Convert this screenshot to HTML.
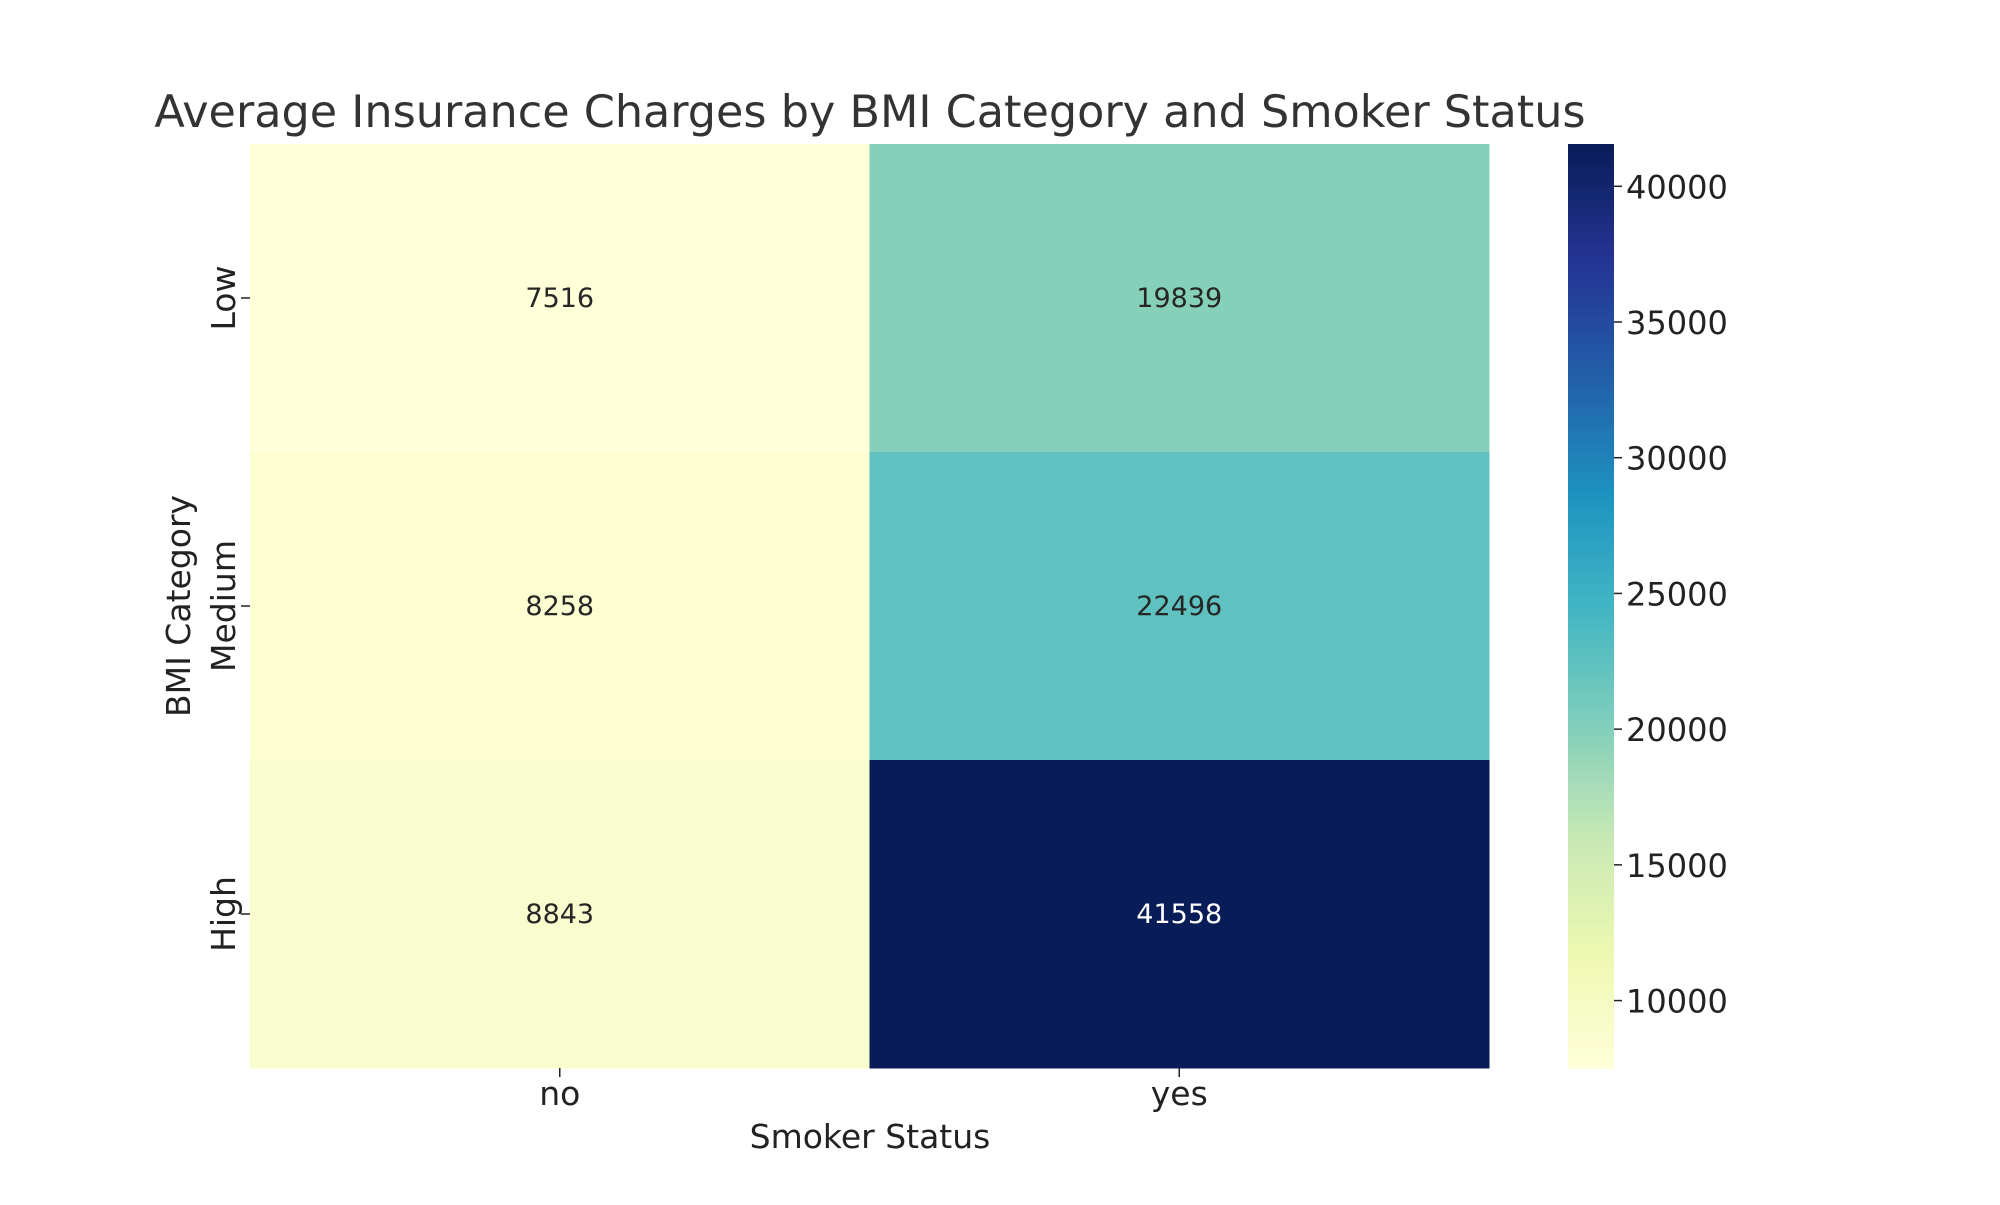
<!DOCTYPE html>
<html><head><meta charset="utf-8"><style>
html,body{margin:0;padding:0;background:#fff;}
svg text{font-family:"DejaVu Sans","Liberation Sans",sans-serif;}
</style></head><body>
<svg id="chart" width="2000" height="1200" xmlns="http://www.w3.org/2000/svg">
<text x="870" y="127" font-size="44.5" fill="#333" text-anchor="middle">Average Insurance Charges by BMI Category and Smoker Status</text>
<text x="870" y="1148" font-size="33" fill="#222" text-anchor="middle">Smoker Status</text>
<text transform="translate(190,606) rotate(-90)" font-size="33" fill="#222" text-anchor="middle">BMI Category</text>
<g id="cells"></g>
<g id="cbar"></g>
</svg>
<script>
const rows = ["Low","Medium","High"];
const cols = ["no","yes"];
const noValues = [7516, 8258, 8843];
const yesValues = [19839, 22496, 41558];
const cbarTicks = [10000,15000,20000,25000,30000,35000,40000];
const vmin = 7516, vmax = 41558;

const NS="http://www.w3.org/2000/svg";
const L=250,R=1489,T=144,B=1068;
const CBX=1568,CBW=46;
const stops=['#ffffd9','#edf8b1','#c7e9b4','#7fcdbb','#41b6c4','#1d91c0','#225ea8','#253494','#081d58'];
function hex(h){return [1,3,5].map(i=>parseInt(h.substr(i,2),16));}
function cmap(v){let t=(v-vmin)/(vmax-vmin);t=Math.max(0,Math.min(1,t));
 const p=t*(stops.length-1);const i=Math.min(stops.length-2,Math.floor(p));const f=p-i;
 const a=hex(stops[i]),b=hex(stops[i+1]);
 return 'rgb('+a.map((c,k)=>Math.round(c+(b[k]-c)*f)).join(',')+')';}
function lum(v){let t=(v-vmin)/(vmax-vmin);return t<0.6;}
const xs=i=>L+(R-L)*i/cols.length, ys=j=>T+(B-T)*j/rows.length;
const cw=(R-L)/cols.length, ch=(B-T)/rows.length;
function mk(tag,attrs,parent){const e=document.createElementNS(NS,tag);for(const k in attrs)e.setAttribute(k,attrs[k]);parent.appendChild(e);return e;}
const g=document.getElementById('cells');
const series=[noValues,yesValues];
series.forEach((vals,ci)=>{vals.forEach((v,ri)=>{
 const r=mk('rect',{x:xs(ci),y:ys(ri),width:cw+0.5,height:ch+0.5,fill:cmap(v)},g);
 
 
 const t=mk('text',{x:xs(ci)+cw/2,y:ys(ri)+ch/2+9,'font-size':27,'text-anchor':'middle',fill:lum(v)?'#262626':'#fff'},g);
 t.textContent=v;
 
 
});});
rows.forEach((r,ri)=>{const y=ys(ri)+ch/2;
 const tk=mk('line',{x1:L-9,x2:L,y1:y,y2:y,stroke:'#222','stroke-width':1.5},g);
 
 
 const t=mk('text',{transform:`translate(235,${y}) rotate(-90)`,'font-size':33,'text-anchor':'middle',fill:'#222'},g);
 t.textContent=r;
 
 
});
cols.forEach((c,ci)=>{const x=xs(ci)+cw/2;
 const tk=mk('line',{x1:x,x2:x,y1:B,y2:B+9,stroke:'#222','stroke-width':1.5},g);
 
 
 const t=mk('text',{x:x,y:1105,'font-size':33,'text-anchor':'middle',fill:'#222'},g);
 t.textContent=c;
 
 
});
const cb=document.getElementById('cbar');
const N=200;
for(let i=0;i<N;i++){const v=vmin+(vmax-vmin)*i/N;
 const y0=B-(B-T)*(i+1)/N;
 const r=mk('rect',{x:CBX,y:y0,width:CBW,height:(B-T)/N+0.8,fill:cmap(v+(vmax-vmin)/(2*N))},cb);
 
 
}
cbarTicks.forEach(v=>{const y=B-(B-T)*(v-vmin)/(vmax-vmin);
 const tk=mk('line',{x1:CBX+CBW,x2:CBX+CBW+8,y1:y,y2:y,stroke:'#222','stroke-width':1.5},cb);
 
 
 const t=mk('text',{x:CBX+CBW+12,y:y+12,'font-size':32,fill:'#222'},cb);
 t.textContent=v;
 
 
});
</script>
</body></html>
